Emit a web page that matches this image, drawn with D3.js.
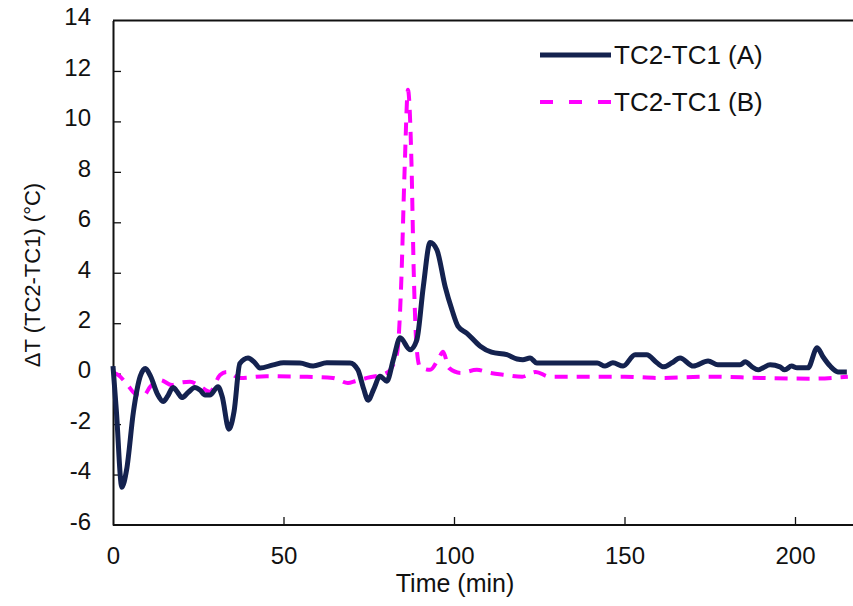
<!DOCTYPE html>
<html>
<head>
<meta charset="utf-8">
<script src="https://cdn.jsdelivr.net/npm/d3@7"></script>
<style>
  body { margin: 0; background: #fff; }
  text { font-family: "Liberation Sans", Arial, sans-serif; fill: #111; }
</style>
</head>
<body>
<div id="chart"></div>
<script>
// series A: TC2-TC1 (A), solid navy
var timeA = [0, 1, 2.6, 4, 6, 8, 9.5, 11, 13, 14.7, 16, 17.6, 19, 20.2, 22, 24, 25.5, 27, 28.4, 30.8,
  32, 34, 35.5, 37.2, 39.6, 41.5, 43.1, 47, 50, 54.8, 58.7, 62.7, 69.5, 71.8, 73.5, 74.8, 76.5, 78.3,
  80.3, 82.2, 84.2, 87.1, 89.1, 91, 93, 95, 97.4, 99.4, 101.2, 103.8, 107.6, 111, 115.5, 118.5, 120.2,
  122.3, 124.3, 142, 144.3, 146.6, 149.6, 153.1, 156.5, 159.5, 161.4, 163.9, 166.3, 170.2, 174.5,
  177.4, 183.9, 185.4, 187.4, 189.2, 190.6, 192.7, 195.6, 197, 199, 200.6, 203.8, 206.5, 208.2,
  210.3, 212.6, 215.2];
var valuesA = [0.3, -1.5, -4.5, -3.8, -1.5, -0.1, 0.2, -0.1, -0.8, -1.1, -0.9, -0.55, -0.75, -0.95, -0.75, -0.55, -0.65, -0.85, -0.85, -0.52,
  -0.9, -2.2, -1.5, 0.4, 0.62, 0.45, 0.22, 0.35, 0.43, 0.42, 0.3, 0.43, 0.42, 0.15, -0.6, -1.05, -0.6, -0.1,
  -0.3, 0.55, 1.42, 0.95, 1.34, 3.45, 5.2, 4.9, 3.45, 2.53, 1.87, 1.6, 1.1, 0.85, 0.75, 0.58, 0.55,
  0.62, 0.42, 0.42, 0.3, 0.43, 0.3, 0.75, 0.75, 0.43, 0.27, 0.43, 0.62, 0.3, 0.5,
  0.35, 0.35, 0.47, 0.27, 0.15, 0.23, 0.35, 0.27, 0.15, 0.3, 0.23, 0.23, 1.03, 0.67,
  0.3, 0.07, 0.07];

// series B: TC2-TC1 (B), dashed magenta
var timeB = [0, 1.5, 4, 6.5, 8.8, 11, 13.8, 17.3, 20, 22.6, 25.5, 28.4, 31.4, 33.4, 37.2, 45, 54.8, 64.5,
  68.9, 71, 74.5, 80.3, 83.3, 84.5, 85.5, 86.5, 87.5, 88.2, 89, 90, 93, 95.5, 96.8, 98.5, 102, 106.7,
  110.5, 115, 120, 124, 128, 150, 160, 175, 190, 205, 215.5];
var valuesB = [0.05, -0.05, -0.4, -0.8, -0.9, -0.5, -0.25, -0.45, -0.35, -0.32, -0.5, -0.72, -0.05, 0.07, -0.17, -0.1, -0.12, -0.17,
  -0.37, -0.3, -0.17, 0.03, 0.8, 3.5, 8, 11.25, 8.5, 4, 1.1, 0.27, 0.15, 0.6, 0.87, 0.23, 0.03, 0.15,
  0.03, -0.05, -0.12, 0.07, -0.12, -0.12, -0.17, -0.12, -0.17, -0.2, -0.12];

var xTicks = [0, 50, 100, 150, 200];
var yTicks = [-6, -4, -2, 0, 2, 4, 6, 8, 10, 12, 14];
var seriesNames = ["TC2-TC1 (A)", "TC2-TC1 (B)"];

var width = 853, height = 606;
var plotLeft = 113, plotTop = 20.5, plotBottom = 525;

var x = d3.scaleLinear().domain([0, 220]).range([plotLeft, plotLeft + 220 * 3.41]);
var y = d3.scaleLinear().domain([-6, 14]).range([plotBottom, plotTop]);

var svg = d3.select("#chart").append("svg")
  .attr("width", width)
  .attr("height", height);

svg.append("rect").attr("width", width).attr("height", height).attr("fill", "#fff");

// top border of the plot box
svg.append("line")
  .attr("x1", plotLeft).attr("x2", width + 10)
  .attr("y1", plotTop).attr("y2", plotTop)
  .attr("stroke", "#111").attr("stroke-width", 2);

var xAxis = d3.axisBottom(x).tickValues(xTicks).tickFormat(String)
  .tickSizeInner(-8).tickSizeOuter(0).tickPadding(22);
var gx = svg.append("g").attr("transform", "translate(0," + plotBottom + ")").call(xAxis);

var yAxis = d3.axisLeft(y).tickValues(yTicks).tickFormat(String)
  .tickSizeInner(-8).tickSizeOuter(0).tickPadding(22);
var gy = svg.append("g").attr("transform", "translate(" + plotLeft + ",0)").call(yAxis);

[gx, gy].forEach(function(g) {
  g.select(".domain").attr("stroke", "#111").attr("stroke-width", 2);
  g.selectAll(".tick line").attr("stroke", "#111").attr("stroke-width", 1.3);
  g.selectAll(".tick text").attr("font-size", 24).attr("font-family", "Liberation Sans, Arial, sans-serif").attr("fill", "#111");
});
gx.select(".domain").attr("d", "M" + plotLeft + ",0H" + (width + 10));
gx.selectAll(".tick").filter(function(d) { return d === 0; }).select("line").remove();
gy.selectAll(".tick").filter(function(d) { return d === -6 || d === 14; }).select("line").remove();
gy.selectAll(".tick text").attr("dy", "0.18em");

svg.append("text")
  .text("Time (min)")
  .attr("x", 455).attr("y", 592)
  .attr("text-anchor", "middle")
  .attr("font-size", 25);

svg.append("text")
  .text("ΔT (TC2-TC1) (°C)")
  .attr("transform", "translate(40,275) rotate(-90)")
  .attr("text-anchor", "middle")
  .attr("font-size", 22);

var line = d3.line()
  .x(function(d) { return x(d[0]); })
  .y(function(d) { return y(d[1]); })
  .curve(d3.curveMonotoneX);

svg.append("path")
  .datum(d3.zip(timeB, valuesB))
  .attr("d", line)
  .attr("fill", "none")
  .attr("stroke", "#ff00ff")
  .attr("stroke-width", 4)
  .attr("stroke-dasharray", "13,9");

svg.append("path")
  .datum(d3.zip(timeA, valuesA))
  .attr("d", line)
  .attr("fill", "none")
  .attr("stroke", "#14224f")
  .attr("stroke-width", 5)
  .attr("stroke-linejoin", "round");

// legend
var legend = svg.append("g");
legend.append("line")
  .attr("x1", 540).attr("x2", 611).attr("y1", 55).attr("y2", 55)
  .attr("stroke", "#14224f").attr("stroke-width", 5);
legend.append("line")
  .attr("x1", 540).attr("x2", 611).attr("y1", 102).attr("y2", 102)
  .attr("stroke", "#ff00ff").attr("stroke-width", 4).attr("stroke-dasharray", "13,16");
legend.append("text").text(seriesNames[0]).attr("x", 614).attr("y", 64).attr("font-size", 26);
legend.append("text").text(seriesNames[1]).attr("x", 614).attr("y", 111).attr("font-size", 26);
</script>
</body>
</html>
